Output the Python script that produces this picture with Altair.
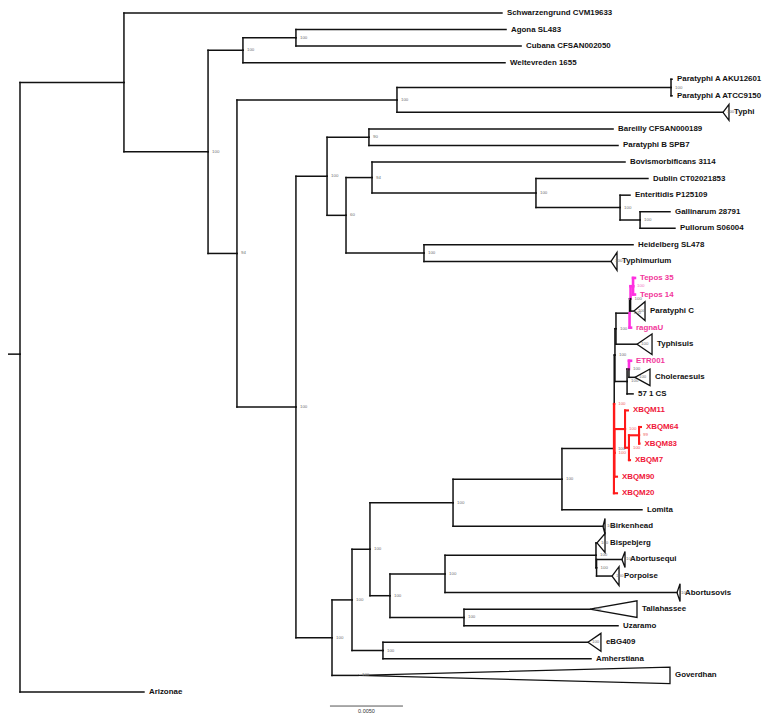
import altair as alt
import pandas as pd

# ---- tree in pre-order: node name, parent, depth from root (1e-4 subst./site), support, colour group
names = ["root", "A", "Schwarzengrund CVM19633", "B", "C", "D", "Agona SL483", "Cubana CFSAN002050",
         "Weltevreden 1655", "E", "F", "G", "Paratyphi A AKU12601", "Paratyphi A ATCC9150", "Typhi",
         "H", "I", "J", "Bareilly CFSAN000189", "Paratyphi B SPB7", "K", "L", "Bovismorbificans 3114",
         "M", "Dublin CT02021853", "N", "Enteritidis P125109", "O", "Gallinarum 28791", "Pullorum S06004",
         "P", "Heidelberg SL478", "Typhimurium",
         "Q", "R", "S", "U", "W", "Zw", "Zr", "T5", "T4", "T3", "T2", "T1", "Tepos 35", "Tepos 14",
         "Paratyphi C", "ragnaU", "Typhisuis", "C2", "C1", "ETR001", "Choleraesuis", "57 1 CS",
         "Zq", "XN1", "XBQM11", "XN2", "XN3", "XBQM64", "XBQM83", "XBQM7", "XBQM90", "XBQM20",
         "Lomita", "Birkenhead", "V", "Y1", "B2", "Bispebjerg", "B3", "Abortusequi", "Porpoise",
         "Abortusovis", "Y2", "Tallahassee", "Uzaramo", "T", "eBG409", "Amherstiana", "Goverdhan",
         "Arizonae"]
parents = ["", "root", "A", "A", "B", "C", "D", "D",
           "C", "B", "E", "F", "G", "G", "F",
           "E", "H", "I", "J", "J", "I", "K", "L",
           "L", "M", "M", "N", "N", "O", "O",
           "K", "P", "P",
           "H", "Q", "R", "S", "U", "W", "Zw", "Zr", "T5", "T4", "T3", "T2", "T1", "T1",
           "T2", "T3", "T4", "T5", "C2", "C1", "C1", "C2",
           "Zr", "Zq", "XN1", "XN1", "XN2", "XN3", "XN3", "XN2", "Zq", "Zw",
           "W", "U", "S", "V", "Y1", "B2", "B2", "B3", "B3",
           "Y1", "V", "Y2", "Y2", "R", "T", "T", "Q",
           "root"]
depths = [0.0, 71.2, 330.1, 128.8, 152.7, 189.0, 332.9, 343.2,
          332.2, 148.6, 258.2, 445.9, 446.6, 446.6, 481.5,
          189.0, 210.3, 239.0, 406.2, 409.6, 223.3, 241.1, 414.4,
          353.4, 430.1, 411.0, 417.8, 424.7, 445.2, 448.6,
          276.7, 419.9, 404.8,
          213.7, 227.4, 239.7, 296.6, 371.2, 406.8, 407.0, 407.5, 408.2, 417.5, 418.2, 419.9, 421.2, 421.2,
          420.5, 418.5, 422.6, 415.8, 417.1, 418.5, 421.2, 419.9,
          407.2, 414.4, 416.4, 417.1, 424.0, 425.3, 424.3, 417.8, 408.9, 408.9,
          426.0, 399.3, 253.4, 291.1, 394.5, 395.2, 394.9, 412.3, 405.5,
          450.0, 304.1, 390.4, 409.6, 248.6, 389.0, 391.1, 231.5,
          84.9]
supports = ["", "", "", "100", "100", "100", "", "",
            "", "94", "100", "100", "", "", "100",
            "100", "100", "90", "", "", "60", "94", "",
            "100", "", "100", "", "100", "", "",
            "100", "", "100",
            "100", "100", "100", "100", "100", "100", "100", "100", "100", "100", "100", "100", "", "",
            "100", "", "100", "100", "100", "", "100", "",
            "100", "100", "", "100", "99", "", "", "", "", "",
            "", "100", "100", "100", "100", "100", "100", "100", "100",
            "100", "100", "100", "", "100", "100", "", "100",
            ""]
groups = ["k", "k", "k", "k", "k", "k", "k", "k",
          "k", "k", "k", "k", "k", "k", "k",
          "k", "k", "k", "k", "k", "k", "k", "k",
          "k", "k", "k", "k", "k", "k", "k",
          "k", "k", "k",
          "k", "k", "k", "k", "k", "k", "r", "k", "k", "k", "k", "p", "p", "p",
          "k", "p", "k", "k", "k", "p", "k", "k",
          "r", "r", "r", "r", "r", "r", "r", "r", "r", "r",
          "k", "k", "k", "k", "k", "k", "k", "k", "k",
          "k", "k", "k", "k", "k", "k", "k", "k",
          "k"]
root_row = 20.6   # row at which the root stub is drawn in the figure

# ---- collapsed clades: right-edge depth and half height (in rows)
clade_names = ["Typhi", "Typhimurium", "Paratyphi C", "Typhisuis", "Choleraesuis", "Birkenhead",
               "Bispebjerg", "Abortusequi", "Porpoise", "Abortusovis", "Tallahassee", "eBG409", "Goverdhan"]
clade_right = [485.6, 408.9, 428.1, 432.9, 431.5, 400.7, 400.7, 414.4, 410.3, 452.1, 422.6, 397.9, 445.2]
clade_half = [0.48, 0.54, 0.57, 0.62, 0.5, 0.48, 0.57, 0.48, 0.57, 0.54, 0.5, 0.54, 0.5]

scale_bar_len = 50.0      # = 0.0050 subst./site
scale_bar_text = "0.0050"

# ---- layout (rectangular cladogram)
line_col = {"k": "#111111", "p": "#ff30e0", "r": "#ff1a1a"}
line_w = {"k": 1.5, "p": 2.6, "r": 2.1}
text_col = {"k": "#111111", "p": "#f2379b", "r": "#f0173a"}
sup_col = {"k": "#707070", "p": "#f06fc0", "r": "#f06060"}

depth = dict(zip(names, depths))
grp = dict(zip(names, groups))
children = {n: [] for n in names}
for n, p in zip(names, parents):
    if p:
        children[p].append(n)
clade_info = {c: (r, h) for c, r, h in zip(clade_names, clade_right, clade_half)}

ypos = {}
counter = [0]


def lay(n):
    if not children[n]:
        ypos[n] = counter[0]
        counter[0] += 1
    else:
        for c in children[n]:
            lay(c)
        ypos[n] = (ypos[children[n][0]] + ypos[children[n][-1]]) / 2


lay("root")
ypos["root"] = root_row

seg = []
for n, p in zip(names, parents):
    g = grp[n]
    if not p:
        seg.append(dict(x=-8.2, x2=0.0, y=ypos[n], y2=ypos[n], col=line_col[g], w=line_w[g]))
        continue
    seg.append(dict(x=depth[p], x2=depth[n], y=ypos[n], y2=ypos[n], col=line_col[g], w=line_w[g]))
    seg.append(dict(x=depth[p], x2=depth[p], y=ypos[p], y2=ypos[n], col=line_col[g], w=line_w[g]))
seg_df = pd.DataFrame(seg)

tri = []
for c in clade_names:
    r, h = clade_info[c]
    a, y = depth[c], ypos[c]
    for k, (xx, yy) in enumerate([(a, y), (r, y - h), (r, y + h), (a, y)]):
        tri.append(dict(clade=c, o=k, x=xx, y=yy))
tri_df = pd.DataFrame(tri)

tips = []
for n in names:
    if not children[n]:
        x = clade_info[n][0] if n in clade_info else depth[n]
        tips.append(dict(x=x, y=ypos[n], t=n, col=text_col[grp[n]]))
tip_df = pd.DataFrame(tips)

sup = []
for n, s in zip(names, supports):
    if s:
        sup.append(dict(x=depth[n], y=ypos[n], t=s, col=sup_col[grp[n]]))
sup_df = pd.DataFrame(sup)

sb_x0 = 212.3
bar_df = pd.DataFrame([dict(x=sb_x0, x2=sb_x0 + scale_bar_len, y=41.85)])
bar_txt = pd.DataFrame([dict(x=sb_x0 + scale_bar_len / 2, y=42.12, t=scale_bar_text)])

xs = alt.Scale(domain=[-8.219, 508.22], nice=False, zero=False)
ys = alt.Scale(domain=[-0.302, 42.27], nice=False, zero=False, reverse=True)

segs = alt.Chart(seg_df).mark_rule(strokeCap="square").encode(
    x=alt.X("x:Q", scale=xs, axis=None), x2="x2:Q",
    y=alt.Y("y:Q", scale=ys, axis=None), y2="y2:Q",
    color=alt.Color("col:N", scale=None), strokeWidth=alt.StrokeWidth("w:Q", scale=None))

tris = alt.Chart(tri_df).mark_line(color="#111111", strokeWidth=1.3, strokeJoin="miter").encode(
    x=alt.X("x:Q", scale=xs, axis=None), y=alt.Y("y:Q", scale=ys, axis=None),
    detail="clade:N", order="o:Q")

tip_text = alt.Chart(tip_df).mark_text(align="left", baseline="middle", dx=5, font="Liberation Sans",
                                       fontWeight="bold", fontSize=7.9).encode(
    x=alt.X("x:Q", scale=xs, axis=None), y=alt.Y("y:Q", scale=ys, axis=None), text="t:N",
    color=alt.Color("col:N", scale=None))

sup_text = alt.Chart(sup_df).mark_text(align="left", baseline="middle", dx=4, font="Liberation Sans",
                                       fontSize=4.4).encode(
    x=alt.X("x:Q", scale=xs, axis=None), y=alt.Y("y:Q", scale=ys, axis=None), text="t:N",
    color=alt.Color("col:N", scale=None))

bar = alt.Chart(bar_df).mark_rule(color="#555555", strokeWidth=1).encode(
    x=alt.X("x:Q", scale=xs, axis=None), x2="x2:Q", y=alt.Y("y:Q", scale=ys, axis=None))

bar_label = alt.Chart(bar_txt).mark_text(align="center", baseline="middle", font="Liberation Sans",
                                         fontSize=5.5, color="#333333").encode(
    x=alt.X("x:Q", scale=xs, axis=None), y=alt.Y("y:Q", scale=ys, axis=None), text="t:N")

chart = alt.layer(segs, tris, tip_text, sup_text, bar, bar_label).properties(
    width=754, height=705, padding=0, autosize=alt.AutoSizeParams(type="none")
).configure_view(strokeWidth=0)

chart.save("out.html", embed_options={"renderer": "svg", "actions": False})
